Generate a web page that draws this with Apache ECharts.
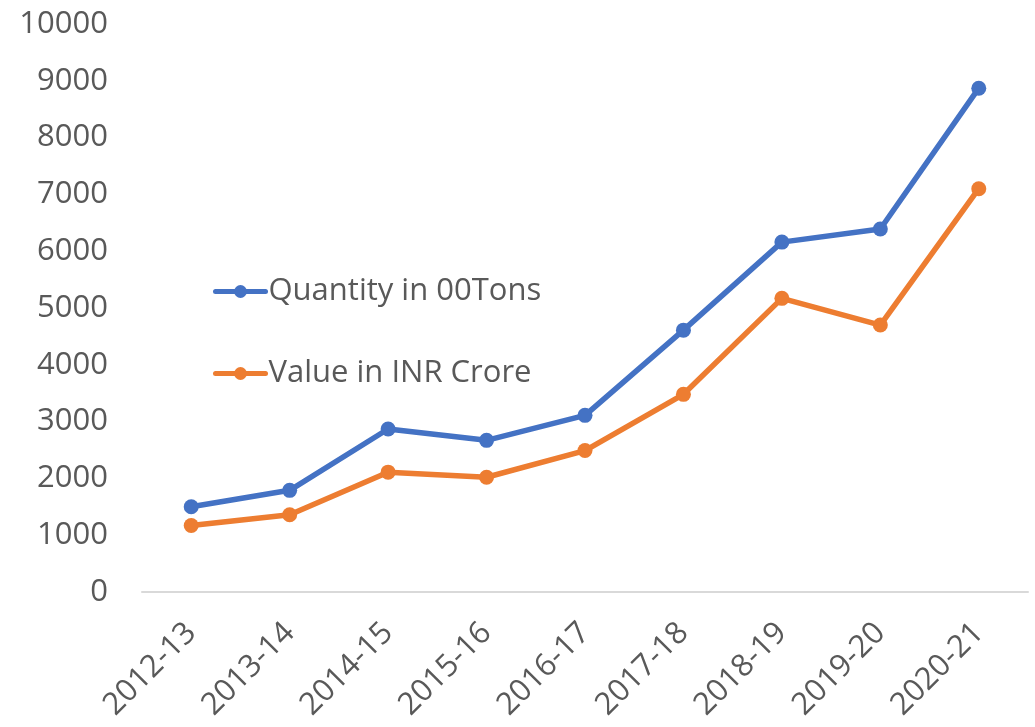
<!DOCTYPE html>
<html>
<head>
<meta charset="utf-8">
<script src="https://cdn.jsdelivr.net/npm/echarts@6/dist/echarts.min.js"></script>
<style>html,body{margin:0;padding:0;background:#fff}#c{width:1035px;height:727px}</style>
</head>
<body>
<div id="c"></div>
<script>
const categories = ['2012-13','2013-14','2014-15','2015-16','2016-17','2017-18','2018-19','2019-20','2020-21'];
const quantity = [1500, 1790, 2870, 2670, 3110, 4610, 6160, 6390, 8870];
const valueINR = [1170, 1360, 2110, 2020, 2490, 3480, 5170, 4700, 7100];
const seriesNames = ['Quantity in 00Tons', 'Value in INR Crore'];
const FONT = 'Open Sans';
const chart = echarts.init(document.getElementById('c'), null, {renderer: 'canvas'});
chart.setOption({
  animation: false,
  backgroundColor: '#ffffff',
  grid: {left: 142, right: 7, top: 24, bottom: 135, containLabel: false},
  legend: {
    orient: 'vertical', left: 208, top: 271, itemGap: 51,
    itemWidth: 50, itemHeight: 16,
    lineStyle: {width: 5, cap: 'round'},
    textStyle: {color: '#595959', fontSize: 31, fontFamily: FONT, padding: [0,0,0,-2]},
    data: seriesNames
  },
  xAxis: {
    type: 'category', data: categories, boundaryGap: true,
    axisLine: {lineStyle: {color: '#d9d9d9', width: 2}},
    axisTick: {show: false},
    axisLabel: {rotate: 45, color: '#595959', fontSize: 31, fontFamily: FONT, margin: 36, interval: 0}
  },
  yAxis: {
    type: 'value', min: 0, max: 10000, interval: 1000,
    axisLine: {show: false}, axisTick: {show: false},
    splitLine: {show: false},
    axisLabel: {color: '#595959', fontSize: 31, fontFamily: FONT, margin: 34, formatter: v => String(v)}
  },
  series: [
    {name: seriesNames[0], type: 'line', data: quantity, symbol: 'circle', symbolSize: 15,
     lineStyle: {color: '#4472C4', width: 5.5}, itemStyle: {color: '#4472C4'}},
    {name: seriesNames[1], type: 'line', data: valueINR, symbol: 'circle', symbolSize: 15,
     lineStyle: {color: '#ED7D31', width: 5.5}, itemStyle: {color: '#ED7D31'}}
  ]
});
</script>
</body>
</html>
